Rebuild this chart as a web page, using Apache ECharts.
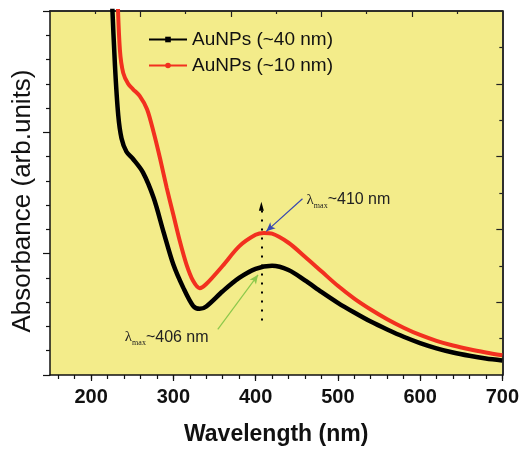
<!DOCTYPE html>
<html>
<head>
<meta charset="utf-8">
<script src="https://cdn.jsdelivr.net/npm/echarts@6/dist/echarts.min.js"></script>
<style>
  html, body { margin: 0; padding: 0; background: #fff; }
  #chart { width: 522px; height: 451px; }
</style>
</head>
<body>
<div id="chart"></div>
<script>
// wavelength (nm) / absorbance (arb.)
const wl40 = [225, 229, 233, 237, 243, 251, 263, 276, 288, 300, 312, 324, 332, 340, 360, 380, 400, 420, 440, 460, 480, 500, 520, 540, 560, 580, 600, 620, 640, 660, 680, 700];
const ab40 = [3.15, 2.55, 2.14, 1.95, 1.84, 1.78, 1.67, 1.46, 1.18, 0.91, 0.72, 0.57, 0.545, 0.565, 0.69, 0.80, 0.875, 0.90, 0.865, 0.78, 0.685, 0.595, 0.515, 0.44, 0.375, 0.315, 0.263, 0.22, 0.185, 0.158, 0.136, 0.12];
const wl10 = [232, 235, 239, 245, 251, 259, 268, 276, 284, 292, 300, 308, 316, 324, 332, 340, 360, 380, 400, 410, 420, 440, 460, 480, 500, 520, 540, 560, 580, 600, 620, 640, 660, 680, 700];
const ab10 = [3.15, 2.68, 2.49, 2.40, 2.355, 2.30, 2.19, 2.0, 1.78, 1.54, 1.32, 1.10, 0.91, 0.776, 0.716, 0.75, 0.90, 1.06, 1.155, 1.171, 1.165, 1.09, 0.975, 0.855, 0.735, 0.63, 0.54, 0.46, 0.39, 0.33, 0.282, 0.243, 0.212, 0.186, 0.163];

const majorX = [200, 300, 400, 500, 600, 700];
const minorX = [160, 180, 200, 220, 240, 260, 280, 300, 320, 340, 360, 380, 400, 420, 440, 460, 480, 500, 520, 540, 560, 580, 600, 620, 640, 660, 680, 700];
const topLong = [260, 370, 480, 590];
const topShort = [205, 315, 425, 535, 645];
const rightLong = [0.6, 1.2, 1.8, 2.4];
const rightShort = [0.3, 0.9, 1.5, 2.1, 2.7];

const peak40 = 406;
const peak10 = 410;

const pairs = (xs, ys) => xs.map((x, i) => [x, ys[i]]);

let chart = echarts.init(document.getElementById("chart"));

// bare axis used only to draw a row of ticks (top / right frame)
function tickAxis(pos, min, max, values, len) {
  return {
    type: "value",
    min: min,
    max: max,
    position: pos,
    axisLine: { show: true, onZero: false, lineStyle: { color: "#222", width: 1.5 } },
    axisTick: { show: true, inside: true, customValues: values, length: len, lineStyle: { color: "#222", width: 1.2 } },
    axisLabel: { show: false },
    splitLine: { show: false }
  };
}

let option = {
  animation: false,
  backgroundColor: "#ffffff",
  grid: {
    left: 50,
    right: 19,
    top: 11,
    bottom: 73,
    show: true,
    backgroundColor: "#f3ec8a",
    borderWidth: 0
  },
  legend: {
    orient: "vertical",
    left: 143,
    top: 25,
    itemWidth: 38,
    itemHeight: 7,
    itemGap: 7,
    textStyle: { fontFamily: "Liberation Sans", fontSize: 19, color: "#111" },
    data: ["AuNPs (~40 nm)", "AuNPs (~10 nm)"]
  },
  xAxis: [
    {
      type: "value",
      min: 150,
      max: 700,
      position: "bottom",
      name: "Wavelength (nm)",
      nameLocation: "middle",
      nameGap: 48,
      nameTextStyle: { fontFamily: "Liberation Sans", fontWeight: "bold", fontSize: 23, color: "#111" },
      axisLine: { onZero: false, lineStyle: { color: "#111", width: 1.5 } },
      axisTick: { customValues: majorX, length: 6, lineStyle: { color: "#111", width: 1.2 } },
      axisLabel: { customValues: majorX, fontFamily: "Liberation Sans", fontWeight: "bold", fontSize: 20, color: "#111", margin: 12 },
      splitLine: { show: false }
    },
    {
      type: "value",
      min: 150,
      max: 700,
      position: "bottom",
      axisLine: { show: false, onZero: false },
      axisTick: { customValues: minorX, length: 4, lineStyle: { color: "#111", width: 1.2 } },
      axisLabel: { show: false },
      splitLine: { show: false }
    },
    tickAxis("top", 150, 700, topLong, 6),
    tickAxis("top", 150, 700, topShort, 3)
  ],
  yAxis: [
    {
      type: "value",
      min: 0,
      max: 3,
      interval: 1,
      position: "left",
      name: "Absorbance (arb.units)",
      nameLocation: "middle",
      nameGap: 14,
      nameTextStyle: { fontFamily: "Liberation Sans", fontSize: 26, color: "#111", padding: [0, 0, 0, -16] },
      axisLine: { onZero: false, lineStyle: { color: "#111", width: 1.5 } },
      axisTick: { length: 7, lineStyle: { color: "#111", width: 1.2 } },
      minorTick: { show: true, splitNumber: 5, length: 4, lineStyle: { color: "#111", width: 1.2 } },
      axisLabel: { show: false },
      splitLine: { show: false },
      minorSplitLine: { show: false }
    },
    tickAxis("right", 0, 3, rightLong, 6),
    tickAxis("right", 0, 3, rightShort, 3)
  ],
  series: [
    {
      name: "AuNPs (~40 nm)",
      type: "line",
      xAxisIndex: 0,
      yAxisIndex: 0,
      smooth: 0.3,
      symbol: "rect",
      symbolSize: 5,
      showSymbol: false,
      lineStyle: { color: "#000", width: 4.5 },
      itemStyle: { color: "#000" },
      data: pairs(wl40, ab40),
      markLine: {
        silent: true,
        label: { show: false },
        data: [
          [
            { coord: [peak40 + 1, 0.45], symbol: "none", lineStyle: { color: "#000", type: [2, 7], width: 2 } },
            { coord: [peak40 + 1, 1.39], symbol: "triangle", symbolSize: [5, 9] }
          ],
          [
            { coord: [354, 0.376], symbol: "none", lineStyle: { color: "#8cc84b", type: "solid", width: 1.2 } },
            { coord: [403, 0.826], symbol: "arrow", symbolSize: [6, 9] }
          ]
        ]
      },
      markPoint: {
        silent: true,
        symbol: "circle",
        symbolSize: 0.01,
        data: [
          {
            coord: [241, 0.31],
            label: {
              show: true,
              position: "right",
              distance: 0,
              formatter: "{l|λ}{s|max}{t|~" + peak40 + " nm}",
              rich: {
                l: { fontFamily: "Liberation Serif", fontSize: 15, color: "#222" },
                s: { fontFamily: "Liberation Serif", fontSize: 8, color: "#222", padding: [12, 0, 0, 0] },
                t: { fontFamily: "Liberation Sans", fontSize: 16, color: "#222" }
              }
            }
          }
        ]
      }
    },
    {
      name: "AuNPs (~10 nm)",
      type: "line",
      xAxisIndex: 0,
      yAxisIndex: 0,
      smooth: 0.3,
      symbol: "circle",
      symbolSize: 5,
      showSymbol: false,
      lineStyle: { color: "#f2301f", width: 4 },
      itemStyle: { color: "#f2301f" },
      data: pairs(wl10, ab10),
      markLine: {
        silent: true,
        label: { show: false },
        data: [
          [
            { coord: [457, 1.453], symbol: "none", lineStyle: { color: "#3848b0", type: "solid", width: 1.2 } },
            { coord: [413, 1.184], symbol: "arrow", symbolSize: [6, 9] }
          ]
        ]
      },
      markPoint: {
        silent: true,
        symbol: "circle",
        symbolSize: 0.01,
        data: [
          {
            coord: [462, 1.445],
            label: {
              show: true,
              position: "right",
              distance: 0,
              formatter: "{l|λ}{s|max}{t|~" + peak10 + " nm}",
              rich: {
                l: { fontFamily: "Liberation Serif", fontSize: 15, color: "#222" },
                s: { fontFamily: "Liberation Serif", fontSize: 8, color: "#222", padding: [12, 0, 0, 0] },
                t: { fontFamily: "Liberation Sans", fontSize: 16, color: "#222" }
              }
            }
          }
        ]
      }
    }
  ]
};

chart.setOption(option);
</script>
</body>
</html>
